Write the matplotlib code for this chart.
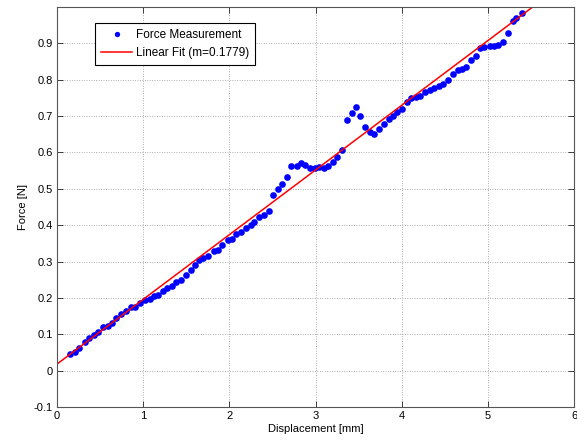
import numpy as np
import matplotlib
matplotlib.use('Agg')
import matplotlib.pyplot as plt

disp = [0.15, 0.21, 0.26, 0.32, 0.375, 0.425, 0.48, 0.535, 0.59, 0.64,
        0.69, 0.745, 0.80, 0.855, 0.91, 0.965, 1.02, 1.075, 1.125, 1.175,
        1.23, 1.28, 1.33, 1.38, 1.44, 1.50, 1.555, 1.60, 1.65, 1.70,
        1.75, 1.82, 1.87, 1.92, 1.98, 2.03, 2.08, 2.13, 2.19, 2.25,
        2.29, 2.35, 2.40, 2.46, 2.51, 2.56, 2.61, 2.67, 2.72, 2.78,
        2.83, 2.88, 2.94, 2.99, 3.04, 3.10, 3.15, 3.20, 3.25, 3.31,
        3.36, 3.42, 3.47, 3.52, 3.58, 3.63, 3.68, 3.74, 3.79, 3.85,
        3.90, 3.95, 4.00, 4.06, 4.11, 4.17, 4.21, 4.27, 4.33, 4.38,
        4.43, 4.48, 4.54, 4.59, 4.65, 4.70, 4.75, 4.81, 4.86, 4.91,
        4.96, 5.02, 5.07, 5.12, 5.18, 5.23, 5.29, 5.33, 5.40]
force = [0.046, 0.052, 0.061, 0.080, 0.090, 0.098, 0.106, 0.120, 0.124, 0.131,
         0.144, 0.157, 0.163, 0.174, 0.174, 0.186, 0.194, 0.198, 0.204, 0.208,
         0.218, 0.227, 0.232, 0.244, 0.250, 0.262, 0.276, 0.290, 0.303, 0.311,
         0.316, 0.329, 0.331, 0.345, 0.358, 0.363, 0.375, 0.380, 0.391, 0.400,
         0.409, 0.423, 0.427, 0.438, 0.482, 0.500, 0.512, 0.532, 0.563, 0.563,
         0.571, 0.566, 0.558, 0.557, 0.561, 0.557, 0.564, 0.575, 0.588, 0.607,
         0.688, 0.708, 0.724, 0.700, 0.670, 0.655, 0.652, 0.664, 0.678, 0.691,
         0.700, 0.712, 0.719, 0.738, 0.750, 0.753, 0.756, 0.767, 0.771, 0.776,
         0.783, 0.788, 0.800, 0.816, 0.827, 0.829, 0.836, 0.853, 0.864, 0.886,
         0.890, 0.893, 0.893, 0.895, 0.905, 0.928, 0.961, 0.969, 0.983]

slope = 0.1779
intercept = 0.018
fit_x = [0, 6]

xticks = [0, 1, 2, 3, 4, 5, 6]
yticks = [-0.1, 0, 0.1, 0.2, 0.3, 0.4, 0.5, 0.6, 0.7, 0.8, 0.9]
ytick_labels = ['-0.1', '0', '0.1', '0.2', '0.3', '0.4', '0.5', '0.6', '0.7', '0.8', '0.9']

plt.rcParams['font.family'] = ['Liberation Sans', 'DejaVu Sans']
plt.rcParams['font.size'] = 8

fig = plt.figure(figsize=(5.77, 4.42), dpi=100)
ax = fig.add_axes([57 / 577, 35 / 442, 517 / 577, 400 / 442])

ax.plot(disp, force, 'o', color=(0, 0, 1), markersize=4.8,
        markeredgewidth=0, label='Force Measurement')
fx = np.array(fit_x)
ax.plot(fx, slope * fx + intercept, '-', color=(1, 0, 0), lw=1.1,
        label='Linear Fit (m=0.1779)')

ax.set_xlim(0, 6)
ax.set_ylim(-0.1, 1.0)
ax.set_xticks(xticks)
ax.set_yticks(yticks)
ax.set_yticklabels(ytick_labels)
ax.tick_params(direction='in', length=4, width=0.6, top=True, right=True,
               colors='#222222', labelcolor='black', pad=3)
ax.grid(True, linestyle=(0, (1, 2.5)), color='#666666', linewidth=0.5)
for s in ax.spines.values():
    s.set_linewidth(0.8)
    s.set_color('#555555')

ax.set_xlabel('Displacement [mm]', labelpad=2)
ax.set_ylabel('Force [N]', labelpad=4)

leg = ax.legend(loc='upper left', bbox_to_anchor=(0.063, 0.975), fancybox=False,
                framealpha=1, edgecolor='black', borderpad=0.5,
                handlelength=2.6, handletextpad=0.3, markerscale=0.8,
                numpoints=1, fontsize=8.5)
leg.get_frame().set_linewidth(0.8)

fig.savefig('out.png', dpi=100)
